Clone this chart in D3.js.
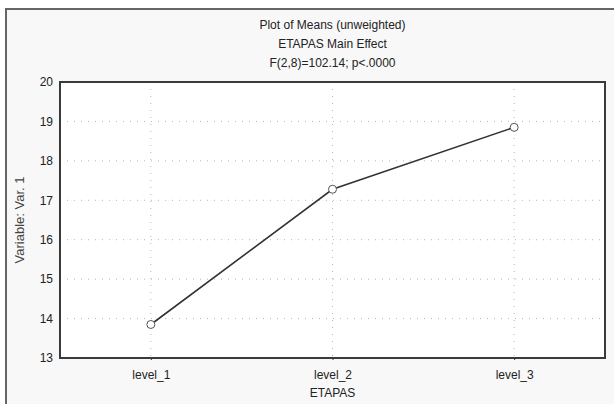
<!DOCTYPE html>
<html>
<head>
<meta charset="utf-8">
<script src="https://cdn.jsdelivr.net/npm/d3@7"></script>
<style>
  body { margin: 0; background: #fff; }
  svg { display: block; font-family: "Liberation Sans", Arial, sans-serif; }
  .grid line { stroke: #b5b5b5; stroke-width: 1; stroke-dasharray: 1,6; }
  .axis text { font-size: 12px; fill: #222; }
</style>
</head>
<body>
<svg width="614" height="404"></svg>
<script>
// categories and means
var levels = ["level_1", "level_2", "level_3"];
var means = [13.85, 17.28, 18.85];
var yTicks = [13, 14, 15, 16, 17, 18, 19, 20];
var titleLines = ["Plot of Means (unweighted)", "ETAPAS Main Effect", "F(2,8)=102.14; p<.0000"];

(function () {
    var svg = d3.select("svg");
    var margin = { top: 82, right: 9, bottom: 46, left: 60 };
    var width = +svg.attr("width") - margin.left - margin.right;
    var height = +svg.attr("height") - margin.top - margin.bottom;

    // outer frame, runs off the right and bottom edge
    svg.append("rect")
        .attr("x", 6).attr("y", 9)
        .attr("width", 620).attr("height", 420)
        .attr("fill", "#f8f8f8")
        .attr("stroke", "#666")
        .attr("stroke-width", 2);

    svg.selectAll(".title")
        .data(titleLines)
        .enter().append("text")
        .attr("class", "title")
        .attr("x", margin.left + width / 2)
        .attr("y", function (d, i) { return 29 + i * 19; })
        .attr("text-anchor", "middle")
        .style("font-size", "12px")
        .style("fill", "#222")
        .text(function (d) { return d; });

    var x = d3.scalePoint().domain(levels).range([0, width]).padding(0.5);
    var y = d3.scaleLinear().domain([13, 20]).range([height, 0]);

    var g = svg.append("g")
        .attr("transform", "translate(" + margin.left + "," + margin.top + ")");

    g.append("rect")
        .attr("width", width).attr("height", height)
        .attr("fill", "#fff");

    // dotted grid
    var grid = g.append("g").attr("class", "grid");
    grid.selectAll(".h")
        .data(yTicks.slice(1, -1))
        .enter().append("line")
        .attr("x1", 0).attr("x2", width)
        .attr("y1", function (d) { return y(d); })
        .attr("y2", function (d) { return y(d); });
    grid.selectAll(".v")
        .data(levels)
        .enter().append("line")
        .attr("y1", 0).attr("y2", height)
        .attr("x1", function (d) { return x(d); })
        .attr("x2", function (d) { return x(d); });

    var yAxis = g.append("g")
        .attr("class", "axis")
        .call(d3.axisLeft(y).tickValues(yTicks).tickFormat(d3.format("d")).tickSize(0).tickPadding(7));
    yAxis.select(".domain").remove();

    var xAxis = g.append("g")
        .attr("class", "axis")
        .attr("transform", "translate(0," + height + ")")
        .call(d3.axisBottom(x).tickSize(2).tickPadding(10));
    xAxis.select(".domain").remove();
    xAxis.selectAll(".tick line").attr("stroke", "#333");

    // plot border
    g.append("rect")
        .attr("width", width).attr("height", height)
        .attr("fill", "none")
        .attr("stroke", "#3a3a3a")
        .attr("stroke-width", 2);

    var line = d3.line()
        .x(function (d, i) { return x(levels[i]); })
        .y(function (d) { return y(d); });

    g.append("path")
        .datum(means)
        .attr("fill", "none")
        .attr("stroke", "#333")
        .attr("stroke-width", 1.6)
        .attr("d", line);

    g.selectAll(".pt")
        .data(means)
        .enter().append("circle")
        .attr("class", "pt")
        .attr("cx", function (d, i) { return x(levels[i]); })
        .attr("cy", function (d) { return y(d); })
        .attr("r", 4)
        .attr("fill", "#fff")
        .attr("stroke", "#555")
        .attr("stroke-width", 1);

    svg.append("text")
        .attr("x", margin.left + width / 2)
        .attr("y", 397)
        .attr("text-anchor", "middle")
        .style("font-size", "12px")
        .style("fill", "#222")
        .text("ETAPAS");

    svg.append("text")
        .attr("transform", "translate(24," + (margin.top + height / 2) + ") rotate(-90)")
        .attr("text-anchor", "middle")
        .style("font-size", "13px")
        .style("fill", "#444")
        .text("Variable: Var. 1");
}());
</script>
</body>
</html>
